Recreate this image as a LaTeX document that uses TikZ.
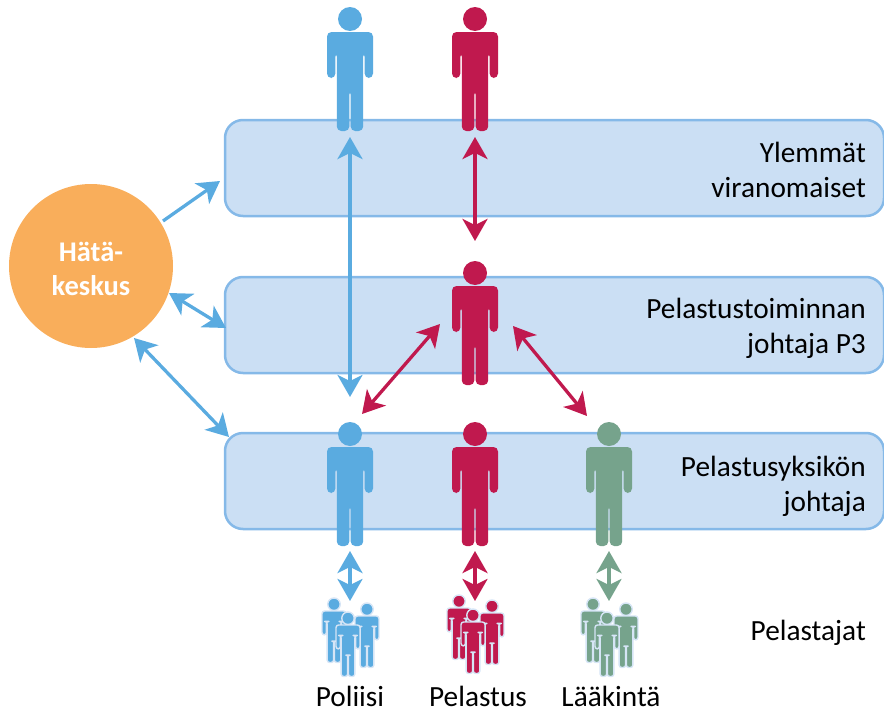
\documentclass[tikz,border=0pt]{standalone}
\usepackage{fontspec}
\setmainfont{Carlito}
\usetikzlibrary{arrows.meta}
\definecolor{polblue}{HTML}{5AABE0}
\definecolor{pelred}{HTML}{C0194E}
\definecolor{laagreen}{HTML}{76A38C}
\definecolor{hubor}{HTML}{F9AE5B}
\definecolor{bandfill}{HTML}{CBDFF4}
\definecolor{bandline}{HTML}{85B9E8}
\definecolor{halo}{HTML}{D6E5F6}
\tikzset{
	band/.style={draw=bandline, fill=bandfill, line width=2.5pt, rounded corners=18pt, minimum width=659pt, minimum height=96pt, anchor=north west, inner sep=0pt, outer sep=0pt},
	lab/.style={anchor=east, align=right, font=\fontsize{29.3}{35}\selectfont, inner sep=0pt},
	unitlab/.style={anchor=base, font=\fontsize{29.3}{35}\selectfont, inner sep=0pt},
	link/.style={draw=#1, line width=3.3pt, {Stealth[length=22pt,width=25pt,inset=6pt]}-{Stealth[length=22pt,width=25pt,inset=6pt]}},
	person/.pic={
		\path[pic actions] (0,12) circle (12);
		\path[pic actions] (-23,25) -- (23,25) -- (23,71) -- (14.6,71) -- (14.6,45) -- (13.2,45) -- (13.2,124) -- (.7,124) -- (.7,83) -- (-.7,83) -- (-.7,124) -- (-13.2,124) -- (-13.2,45) -- (-14.6,45) -- (-14.6,71) -- (-23,71) -- cycle;
	},
	big/.style={fill=#1, rounded corners=4.5pt},
	small/.style={fill=#1, draw=halo, line width=1.4pt, rounded corners=2.5pt, scale=.52},
}
\begin{document}
\begin{tikzpicture}[x=1pt, y=-1pt, line join=round]
	\useasboundingbox (0,0) rectangle (884,712);
	\node[band] (ylem) at (225,120) {};
	\node[band] (johto) at (225,277) {};
	\node[band] (yks) at (225,433) {};
	\node[circle, fill=hubor, minimum size=164pt, inner sep=0pt] (hub) at (91,266) {};
	\node[align=center, text=white, inner sep=0pt, font=\fontsize{28.5}{34}\selectfont\bfseries] (hubtext) at (91,269) {Hätä-\\keskus};
	\node[lab] (ylemlab) at (866,170) {Ylemmät\\viranomaiset};
	\node[lab] (johtolab) at (866,328) {Pelastustoiminnan\\johtaja P3};
	\node[lab] (ykslab) at (866,486) {Pelastusyksikön\\johtaja};
	\node[lab] (pelastajat) at (866,633) {Pelastajat};
	\node[unitlab] (poliisi) at (350,706) {Poliisi};
	\node[unitlab] (pelastus) at (478,706) {Pelastus};
	\node[unitlab] (laakinta) at (611,706) {Lääkintä};
	\foreach \n/\x/\y in {a1/220/181, a2/163/221, b1/169/293, b2/226/328, c1/134/338, c2/229/437,
		pa/350/137, pb/350/397, ra/475/137, rb/475/241,
		da/440/324, db/362/414, ea/513/326, eb/587/416,
		fa/350/551, fb/350/601, ga/475/551, gb/475/601, ha/609/551, hb/609/601}
		\coordinate (\n) at (\x,\y);
	\draw[draw=polblue, line width=3.3pt, -{Stealth[length=22pt,width=25pt,inset=6pt]}] (a2)--(a1);
	\draw[link=polblue] (b1)--(b2);
	\draw[link=polblue] (c1)--(c2);
	\draw[link=polblue] (pa)--(pb);
	\draw[link=pelred] (ra)--(rb);
	\draw[link=pelred] (da)--(db);
	\draw[link=pelred] (ea)--(eb);
	\draw[link=polblue] (fa)--(fb);
	\draw[link=pelred] (ga)--(gb);
	\draw[link=laagreen] (ha)--(hb);
	\foreach \x/\y/\c in {350/7/polblue, 475/7/pelred, 475/261/pelred, 350/422/polblue, 475/422/pelred, 609/422/laagreen}
		\pic[big=\c] at (\x,\y) {person};
	\foreach \x/\c/\dy in {334/polblue/0, 459/pelred/-3, 593/laagreen/0}{
		\pic[small=\c] at (\x,598+\dy) {person};
		\pic[small=\c] at (\x+33,603+\dy) {person};
		\pic[small=\c] at (\x+14,612+\dy) {person};
	}
\end{tikzpicture}
\end{document}
